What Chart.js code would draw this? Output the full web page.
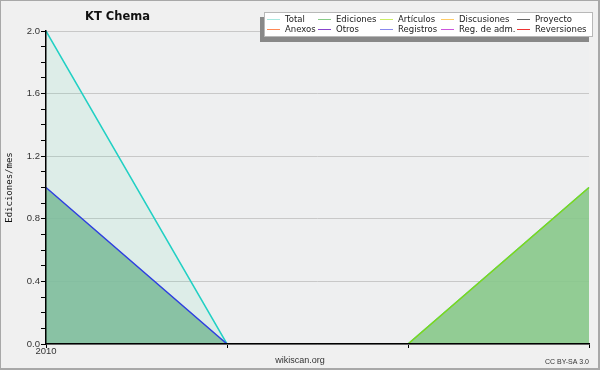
<!DOCTYPE html>
<html>
<head>
<meta charset="utf-8">
<script src="https://cdn.jsdelivr.net/npm/chart.js@4/dist/chart.umd.min.js"></script>
<style>
html, body { margin: 0; padding: 0; background: #f0f0f0; }
</style>
</head>
<body>
<canvas id="chart" width="600" height="370"></canvas>
<script>
// data
var periods = ['2010', '', '', ''];
var total = [2, 0, 0, 1];
var registros = [1, 0, 0, 0];
var articulos = [0, 0, 0, 1];
var yLabels = ['0.0', '0.4', '0.8', '1.2', '1.6', '2.0'];
var legendNames = ['Total', 'Ediciones', 'Artículos', 'Discusiones', 'Proyecto',
                   'Anexos', 'Otros', 'Registros', 'Reg. de adm.', 'Reversiones'];
var legendColors = ['#a8e8e0', '#88cc88', '#ccee66', '#ffcc66', '#666666',
                    '#ff8855', '#8844cc', '#8888ee', '#cc55dd', '#ee3333'];

var decor = {
    id: 'decor',
    beforeDraw: function (chart) {
        var ctx = chart.ctx;
        ctx.save();
        ctx.fillStyle = '#f0f0f0';
        ctx.fillRect(0, 0, 600, 370);
        ctx.fillStyle = '#eeeff0';
        var a = chart.chartArea;
        ctx.fillRect(a.left, a.top, a.right - a.left, a.bottom - a.top);
        ctx.restore();
    },
    afterDraw: function (chart) {
        var ctx = chart.ctx;
        ctx.save();
        // frame
        ctx.fillStyle = '#a8a8a8';
        ctx.fillRect(0, 0, 600, 1);
        ctx.fillRect(0, 0, 1, 370);
        ctx.fillRect(598, 0, 2, 370);
        ctx.fillRect(0, 368, 600, 2);
        // title
        ctx.fillStyle = '#111';
        ctx.font = 'bold 11.5px "DejaVu Sans"';
        ctx.textBaseline = 'middle';
        ctx.textAlign = 'left';
        ctx.fillText('KT Chema', 85, 17);
        // legend box
        ctx.fillStyle = '#888888';
        ctx.fillRect(260, 17, 329, 25);
        ctx.fillStyle = '#ffffff';
        ctx.fillRect(264, 12, 329, 25);
        ctx.strokeStyle = '#b8b8b8';
        ctx.lineWidth = 1;
        ctx.strokeRect(264.5, 12.5, 328, 24);
        var cols = [267, 318, 380, 441, 517];
        ctx.font = '8.5px "DejaVu Sans"';
        for (var i = 0; i < legendNames.length; i++) {
            var x = cols[i % 5];
            var y = i < 5 ? 19.5 : 29.5;
            ctx.strokeStyle = legendColors[i];
            ctx.beginPath();
            ctx.moveTo(x, y);
            ctx.lineTo(x + 13, y);
            ctx.stroke();
            ctx.fillStyle = '#222';
            ctx.fillText(legendNames[i], x + 18, y);
        }
        // footer
        ctx.fillStyle = '#333';
        ctx.font = '9px "Liberation Sans"';
        ctx.textAlign = 'center';
        ctx.fillText('wikiscan.org', 300, 361);
        ctx.font = '7px "Liberation Sans"';
        ctx.textAlign = 'right';
        ctx.fillText('CC BY-SA 3.0', 589, 362);
        ctx.restore();
    }
};

var chart = new Chart(document.getElementById('chart'), {
    type: 'line',
    data: {
        labels: periods,
        datasets: [{
            label: 'Registros',
            data: registros,
            borderColor: '#2f40e0',
            backgroundColor: 'rgba(127,189,156,0.9)',
            fill: 'origin',
            order: 1
        }, {
            label: 'Artículos',
            data: articulos,
            borderColor: '#7ed81a',
            backgroundColor: 'rgba(138,200,139,0.9)',
            fill: 'origin',
            order: 1
        }, {
            label: 'Total',
            data: total,
            borderColor: '#22d0c4',
            backgroundColor: 'rgba(100,220,180,0.12)',
            fill: 'origin',
            order: 3
        }]
    },
    options: {
        responsive: false,
        animation: false,
        devicePixelRatio: 1,
        layout: { padding: { left: 0, top: 31, right: 11, bottom: 0 } },
        elements: {
            line: { borderWidth: 1.5, tension: 0 },
            point: { radius: 0, hoverRadius: 0 }
        },
        plugins: {
            legend: { display: false },
            title: { display: false },
            tooltip: { enabled: false }
        },
        scales: {
            x: {
                offset: false,
                afterFit: function (s) { s.height = 26; },
                grid: { drawOnChartArea: false, tickColor: '#000', tickLength: 4 },
                border: { color: '#000', width: 1.5, z: 1 },
                ticks: {
                    autoSkip: false, maxRotation: 0, padding: -2,
                    color: '#333', font: { family: 'Liberation Sans', size: 9.5 }
                }
            },
            y: {
                min: 0,
                max: 2,
                afterFit: function (s) { s.width = 46; },
                title: {
                    display: true, text: 'Ediciones/mes', color: '#111',
                    font: { family: 'DejaVu Sans Mono', size: 9 },
                    padding: { top: 4, bottom: 0 }
                },
                grid: {
                    color: function (c) {
                        return Math.round(c.tick.value * 10) % 4 === 0 ? '#c8c8c8' : 'rgba(0,0,0,0)';
                    },
                    tickColor: '#000',
                    tickLength: 5
                },
                border: { color: '#000', width: 1.5, z: 1 },
                ticks: {
                    stepSize: 0.1,
                    autoSkip: false,
                    padding: 1,
                    color: '#333',
                    font: { family: 'Liberation Sans', size: 9.5 },
                    callback: function (v) {
                        var n = Math.round(v * 10);
                        return n % 4 === 0 ? yLabels[n / 4] : '';
                    }
                }
            }
        }
    },
    plugins: [decor]
});
</script>
</body>
</html>
